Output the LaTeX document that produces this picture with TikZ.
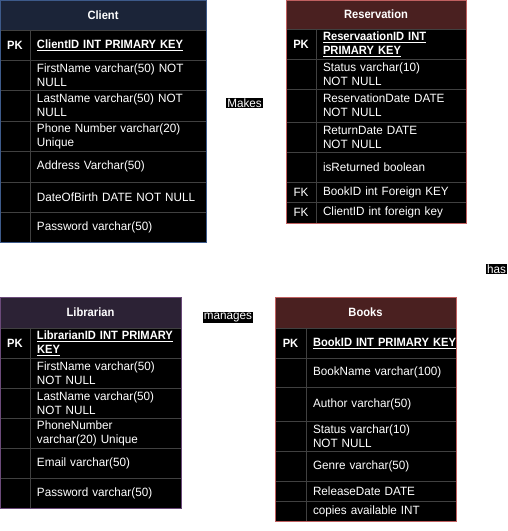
\documentclass[tikz,border=0pt]{standalone}
\usepackage{fontspec}
\setmainfont{Liberation Sans}[FakeStretch=0.975,BoldFeatures={FakeStretch=0.93}]
\usepackage{tikz}
\usetikzlibrary{positioning}

\definecolor{gridgray}{HTML}{404040}
\definecolor{clientfill}{HTML}{1B2438}
\definecolor{clientline}{HTML}{3D5A8A}
\definecolor{resfill}{HTML}{4A2020}
\definecolor{resline}{HTML}{C06060}
\definecolor{libfill}{HTML}{2C2235}
\definecolor{libline}{HTML}{6B4A7A}

\newcommand{\tblfont}{\fontsize{12}{14}\selectfont}

\tikzset{
	tbl/.style={font=\tblfont,text=white,inner sep=0pt,outer sep=0pt},
	hdr/.style={tbl,font={\tblfont\bfseries},anchor=north west,line width=0.8pt},
	keycell/.style={tbl,draw=gridgray,fill=black,line width=0.8pt,minimum width=30pt,anchor=north west},
	pkcell/.style={keycell,font={\tblfont\bfseries}},
	fieldcell/.style={tbl,draw=gridgray,fill=black,line width=0.8pt,align=left,inner xsep=7pt},
	relname/.style={fill=black,text=white,inner sep=1pt,font=\tblfont},
}

\begin{document}
\begin{tikzpicture}[x=1pt,y=1pt,
		clientfield/.style={fieldcell,text width=162pt},
		resfield/.style={fieldcell,text width=136pt},
		libfield/.style={fieldcell,text width=137pt},
		bookfield/.style={fieldcell,text width=136pt}]
	\useasboundingbox (0,0) rectangle (507,-531);
	\fill[white] (0,0) rectangle (507,-531);

	% Client
	\node(client) [hdr,fill=clientfill,draw=clientline,minimum width=206pt,minimum height=30pt] at (0,0) {Client};
	\node(c1k) [pkcell,minimum height=30pt] at (client.south west) {PK};
	\node(c1f) [clientfield,minimum height=30pt,right=0pt of c1k,font={\tblfont\bfseries}] {\underline{ClientID INT PRIMARY KEY}};
	\node(c2k) [keycell,minimum height=30pt] at (c1k.south west) {};
	\node(c2f) [clientfield,minimum height=30pt,right=0pt of c2k] {FirstName varchar(50) NOT\\NULL};
	\node(c3k) [keycell,minimum height=31pt] at (c2k.south west) {};
	\node(c3f) [clientfield,minimum height=31pt,right=0pt of c3k] {LastName varchar(50) NOT\\NULL};
	\node(c4k) [keycell,minimum height=30pt] at (c3k.south west) {};
	\node(c4f) [clientfield,minimum height=30pt,right=0pt of c4k] {Phone Number varchar(20)\\Unique};
	\node(c5k) [keycell,minimum height=31pt] at (c4k.south west) {};
	\node(c5f) [clientfield,minimum height=31pt,right=0pt of c5k] {Address Varchar(50)};
	\node(c6k) [keycell,minimum height=30pt] at (c5k.south west) {};
	\node(c6f) [clientfield,minimum height=30pt,right=0pt of c6k] {DateOfBirth DATE NOT NULL};
	\node(c7k) [keycell,minimum height=30pt] at (c6k.south west) {};
	\node(c7f) [clientfield,minimum height=30pt,right=0pt of c7k] {Password varchar(50)};
	\draw[clientline,line width=1pt] (client.north west) rectangle (c7f.south east);

	% Reservation
	\node(reservation) [hdr,fill=resfill,draw=resline,minimum width=180pt,minimum height=29pt] at (286,0) {Reservation};
	\node(r1k) [pkcell,minimum height=30pt] at (reservation.south west) {PK};
	\node(r1f) [resfield,minimum height=30pt,right=0pt of r1k,font={\tblfont\bfseries}] {\underline{ReservaationID INT}\\\underline{PRIMARY KEY}};
	\node(r2k) [keycell,minimum height=30pt] at (r1k.south west) {};
	\node(r2f) [resfield,minimum height=30pt,right=0pt of r2k] {Status varchar(10)\\NOT NULL};
	\node(r3k) [keycell,minimum height=33pt] at (r2k.south west) {};
	\node(r3f) [resfield,minimum height=33pt,right=0pt of r3k] {ReservationDate DATE\\NOT NULL};
	\node(r4k) [keycell,minimum height=30pt] at (r3k.south west) {};
	\node(r4f) [resfield,minimum height=30pt,right=0pt of r4k] {ReturnDate DATE\\NOT NULL};
	\node(r5k) [keycell,minimum height=30pt] at (r4k.south west) {};
	\node(r5f) [resfield,minimum height=30pt,right=0pt of r5k] {isReturned boolean};
	\node(r6k) [keycell,minimum height=20pt] at (r5k.south west) {FK};
	\node(r6f) [resfield,minimum height=20pt,right=0pt of r6k] {BookID int Foreign KEY};
	\node(r7k) [keycell,minimum height=21pt] at (r6k.south west) {FK};
	\node(r7f) [resfield,minimum height=21pt,right=0pt of r7k] {ClientID int foreign key};
	\draw[resline,line width=1pt] (reservation.north west) rectangle (r7f.south east);

	% Librarian
	\node(librarian) [hdr,fill=libfill,draw=libline,minimum width=181pt,minimum height=31pt] at (0,-297) {Librarian};
	\node(l1k) [pkcell,minimum height=30pt] at (librarian.south west) {PK};
	\node(l1f) [libfield,minimum height=30pt,right=0pt of l1k,font={\tblfont\bfseries}] {\underline{LibrarianID INT PRIMARY}\\\underline{KEY}};
	\node(l2k) [keycell,minimum height=30pt] at (l1k.south west) {};
	\node(l2f) [libfield,minimum height=30pt,right=0pt of l2k] {FirstName varchar(50)\\NOT NULL};
	\node(l3k) [keycell,minimum height=30pt] at (l2k.south west) {};
	\node(l3f) [libfield,minimum height=30pt,right=0pt of l3k] {LastName varchar(50)\\NOT NULL};
	\node(l4k) [keycell,minimum height=30pt] at (l3k.south west) {};
	\node(l4f) [libfield,minimum height=30pt,right=0pt of l4k] {PhoneNumber\\varchar(20) Unique};
	\node(l5k) [keycell,minimum height=30pt] at (l4k.south west) {};
	\node(l5f) [libfield,minimum height=30pt,right=0pt of l5k] {Email varchar(50)};
	\node(l6k) [keycell,minimum height=30pt] at (l5k.south west) {};
	\node(l6f) [libfield,minimum height=30pt,right=0pt of l6k] {Password varchar(50)};
	\draw[libline,line width=1pt] (librarian.north west) rectangle (l6f.south east);

	% Books
	\node(books) [hdr,fill=resfill,draw=resline,minimum width=181pt,minimum height=31pt] at (275,-297) {Books};
	\node(b1k) [pkcell,minimum width=31pt,minimum height=30pt] at (books.south west) {PK};
	\node(b1f) [bookfield,minimum height=30pt,right=0pt of b1k,font={\tblfont\bfseries}] {\underline{BookID INT PRIMARY KEY}};
	\node(b2k) [keycell,minimum width=31pt,minimum height=29pt] at (b1k.south west) {};
	\node(b2f) [bookfield,minimum height=29pt,right=0pt of b2k] {BookName varchar(100)};
	\node(b3k) [keycell,minimum width=31pt,minimum height=34pt] at (b2k.south west) {};
	\node(b3f) [bookfield,minimum height=34pt,right=0pt of b3k] {Author varchar(50)};
	\node(b4k) [keycell,minimum width=31pt,minimum height=30pt] at (b3k.south west) {};
	\node(b4f) [bookfield,minimum height=30pt,right=0pt of b4k] {Status varchar(10)\\NOT NULL};
	\node(b5k) [keycell,minimum width=31pt,minimum height=30pt] at (b4k.south west) {};
	\node(b5f) [bookfield,minimum height=30pt,right=0pt of b5k] {Genre varchar(50)};
	\node(b6k) [keycell,minimum width=31pt,minimum height=20pt] at (b5k.south west) {};
	\node(b6f) [bookfield,minimum height=20pt,right=0pt of b6k] {ReleaseDate DATE};
	\node(b7k) [keycell,minimum width=31pt,minimum height=20pt] at (b6k.south west) {};
	\node(b7f) [bookfield,minimum height=20pt,right=0pt of b7k] {copies available INT};
	\draw[resline,line width=1pt] (books.north west) rectangle (b7f.south east);

	% relationship names
	\node(makes) [relname] at (244.5,-103) {Makes};
	\node(has) [relname] at (496.5,-269) {has};
	\node(manages) [relname] at (228,-317.5) {manages};
\end{tikzpicture}
\end{document}
